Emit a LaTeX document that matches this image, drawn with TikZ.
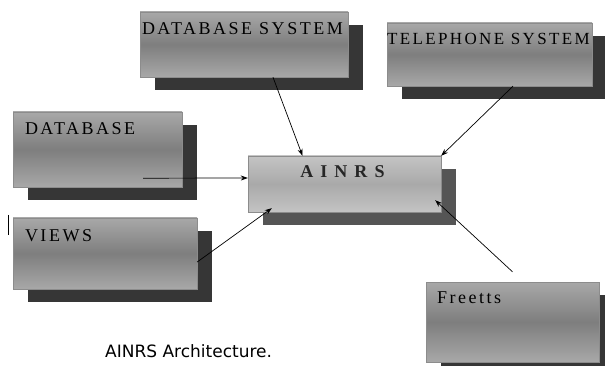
\documentclass[tikz,border=0pt]{standalone}
\usepackage{fontspec}
\usepackage{tikz}
\usetikzlibrary{shadows,arrows.meta}

\newfontfamily\boxfont[LetterSpace=14]{Liberation Serif}
\newfontfamily\capfont{DejaVu Sans}

\definecolor{boxlight}{HTML}{A8A8A8}
\definecolor{boxdark}{HTML}{7E7E7E}
\definecolor{boxedge}{HTML}{8C8C8C}
\definecolor{boxshadow}{HTML}{363636}
\definecolor{corelight}{HTML}{C4C4C4}
\definecolor{coredark}{HTML}{A9A9A9}
\definecolor{coreshadow}{HTML}{555555}

\begin{document}
\begin{tikzpicture}[x=1pt,y=-1pt,
        module/.style = {draw=boxedge,
        top color=boxlight, bottom color=boxlight, middle color=boxdark,
        drop shadow={shadow xshift=15pt, shadow yshift=-13pt,
            fill=boxshadow, opacity=1},
        inner sep=0pt},
        core/.style = {draw=boxedge,
        top color=corelight, bottom color=corelight, middle color=coredark,
        drop shadow={shadow xshift=15pt, shadow yshift=-13pt,
            fill=coreshadow, opacity=1},
        inner sep=0pt},
        title/.style = {anchor=north west, inner sep=0pt,
        font=\boxfont\fontsize{18}{18}\selectfont},
        link/.style = {-{Stealth[length=7pt,width=5pt]}, line width=0.7pt}]

        \useasboundingbox (0,0) rectangle (605,366);

        % Database system
        \node [module, minimum width=208pt, minimum height=65pt] (dbs) at (244,44.5) {};
        \node [title] (dbs-t) at ([shift={(2pt,-11pt)}]dbs.north west) {DATABASE SYSTEM};

        % Telephone system
        \node [module, minimum width=205pt, minimum height=63pt] (tel) at (489.5,54.5) {};
        \node [title, font=\boxfont\fontsize{17}{17}\selectfont]
            (tel-t) at ([shift={(0pt,-10pt)}]tel.north west) {TELEPHONE SYSTEM};

        % Database
        \node [module, minimum width=169pt, minimum height=75pt] (db) at (97.5,149.5) {};
        \node [title] (db-t) at ([shift={(12pt,-11pt)}]db.north west) {DATABASE};

        % Views
        \node [module, minimum width=184pt, minimum height=71pt] (views) at (105,253.5) {};
        \node [title] (views-t) at ([shift={(12pt,-12pt)}]views.north west) {VIEWS};

        % AINRS
        \node [core, minimum width=193pt, minimum height=56pt] (ainrs) at (344.5,184) {};
        \node [title, anchor=north, font=\boxfont\bfseries\fontsize{18}{18}\selectfont,
            text=black!85] (ainrs-t) at ([shift={(-2pt,-10pt)}]ainrs.north) {A I N R S};

        % Freetts
        \node [module, minimum width=173pt, minimum height=80pt] (freetts) at (512.5,322) {};
        \node [title] (freetts-t) at ([shift={(11pt,-10pt)}]freetts.north west) {Freetts};

        % stray mark
        \draw [line width=1pt] (8,215) -- (8,235);

        % Links into AINRS
        \draw [link] ([xshift=29pt]dbs.south) -- ([xshift=-42pt]ainrs.north);
        \draw [link] ([xshift=23.5pt]tel.south) -- (ainrs.north east);
        \draw [link] ([shift={(45.5pt,9pt)}]db.south) -- ([yshift=6pt]ainrs.west);
        \draw [link] ([yshift=-8.5pt]views.east) -- ([shift={(24pt,4pt)}]ainrs.south west);
        \draw [link] ([yshift=10pt]freetts.north) -- ([shift={(-6pt,12pt)}]ainrs.south east);

        % Caption
        \node [anchor=base west, inner sep=0pt, font=\capfont\fontsize{17}{17}\selectfont]
            (caption) at (105,357) {AINRS Architecture.};

\end{tikzpicture}
\end{document}
